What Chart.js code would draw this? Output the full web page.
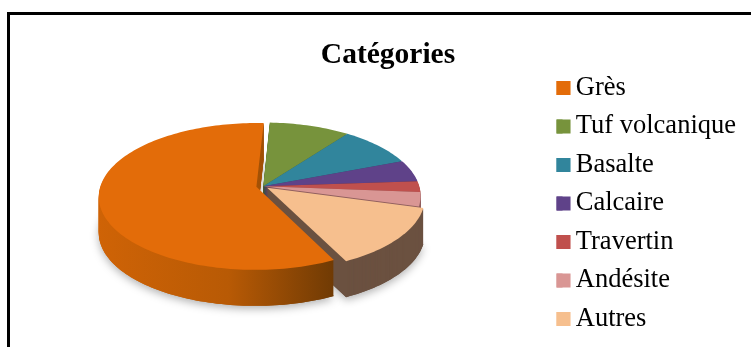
<!DOCTYPE html>
<html>
<head>
<meta charset="utf-8">
<style>
  html, body { margin: 0; padding: 0; background: #fff; overflow: hidden; }
  #frame { position: absolute; left: 7px; top: 12px; width: 744px; height: 335px; box-sizing: border-box;
    border-left: 3px solid #000; border-top: 3px solid #000; }
  #wrap { position: absolute; left: 0; top: 0; width: 751px; height: 347px; }
</style>
<script src="https://cdn.jsdelivr.net/npm/chart.js@4"></script>
</head>
<body>
<div id="frame"></div>
<div id="wrap"><canvas id="chart" width="751" height="347"></canvas></div>
<script>
const categories = ["Grès", "Tuf volcanique", "Basalte", "Calcaire", "Travertin", "Andésite", "Autres"];
const shares = [58, 9.4, 8.9, 4.8, 2.4, 3.1, 13.3];
const sliceColors = ["#e36c09", "#77933c", "#31859c", "#5f4289", "#c0504d", "#d99694", "#f6bf8e"];
const wallColors = ["#b85a05", "#4f6328", "#205868", "#3f2c5b", "#803533", "#905f5e", "#6b5140"];
const explode = [7, 0, 0, 0, 0, 0, 5];

// look of the tilted pie
const radiusX = 156, radiusY = 72, tilt = 0.13, depth = 36;
const pieShiftX = -24, pieShiftY = -26;
const swatch = 14;

function slicePath(ctx, arc, drop) {
  const mid = (arc.startAngle + arc.endAngle) / 2;
  const off = (arc.options.offset || 0) / radiusX;
  const ou = Math.cos(mid) * off, ov = Math.sin(mid) * off;
  const put = (u, v) => {
    const k = 1 / (1 - tilt * v);
    ctx.lineTo(arc.x + pieShiftX + radiusX * u * k, arc.y + pieShiftY + radiusY * v * k + drop);
  };
  ctx.beginPath();
  put(ou, ov);
  const steps = Math.ceil((arc.endAngle - arc.startAngle) * 40);
  for (let i = 0; i <= steps; i++) {
    const a = arc.startAngle + (arc.endAngle - arc.startAngle) * i / steps;
    put(ou + Math.cos(a), ov + Math.sin(a));
  }
  ctx.closePath();
}

const tiltedPie = {
  id: "tiltedPie",
  beforeDatasetDraw(chart) {
    const ctx = chart.ctx;
    const arcs = chart.getDatasetMeta(0).data;
    const order = [1, 2, 3, 4, 5, 6, 0];
    ctx.save();
    order.forEach((i) => {
      let fill = wallColors[i];
      if (i === 0) {
        const g = ctx.createLinearGradient(98, 0, 335, 0);
        g.addColorStop(0, "#cf6306");
        g.addColorStop(0.55, "#b85a05");
        g.addColorStop(1, "#6f3a04");
        fill = g;
      }
      ctx.fillStyle = fill;
      if (i === 0 || i === 6) {
        ctx.save();
        ctx.shadowColor = "rgba(0,0,0,0.3)";
        ctx.shadowBlur = 8;
        ctx.shadowOffsetY = 3;
        slicePath(ctx, arcs[i], depth);
        ctx.fill();
        ctx.restore();
      }
      for (let d = depth; d > 0; d--) {
        slicePath(ctx, arcs[i], d);
        ctx.fill();
      }
    });
    arcs.forEach((arc, i) => {
      ctx.fillStyle = sliceColors[i];
      slicePath(ctx, arc, 0);
      ctx.fill();
    });
    ctx.restore();
    return false;
  },
  // legend text sits closer to its box than Chart.js allows, so widen the boxes here
  afterDraw(chart) {
    const ctx = chart.ctx;
    chart.legend.legendHitBoxes.forEach((box, i) => {
      ctx.fillStyle = sliceColors[i];
      ctx.fillRect(box.left, box.top + (box.height - swatch) / 2, swatch, swatch);
    });
  }
};

new Chart(document.getElementById("chart"), {
  type: "pie",
  data: {
    labels: categories,
    datasets: [{ data: shares, backgroundColor: sliceColors, borderWidth: 0, offset: explode }]
  },
  plugins: [tiltedPie],
  options: {
    responsive: false,
    animation: false,
    rotation: 153.7,
    layout: { padding: { left: 30, top: 38, bottom: -22, right: 5 } },
    plugins: {
      tooltip: { enabled: false },
      title: {
        display: true,
        text: "Catégories",
        color: "#000",
        font: { family: "'Liberation Serif'", size: 29.5, weight: "bold" },
        padding: { top: 0, bottom: 4 }
      },
      legend: {
        position: "right",
        labels: {
          color: "#000",
          font: { family: "'Liberation Serif'", size: 26.5 },
          boxWidth: 6,
          boxHeight: 14,
          padding: 12
        }
      }
    }
  }
});
</script>
</body>
</html>
